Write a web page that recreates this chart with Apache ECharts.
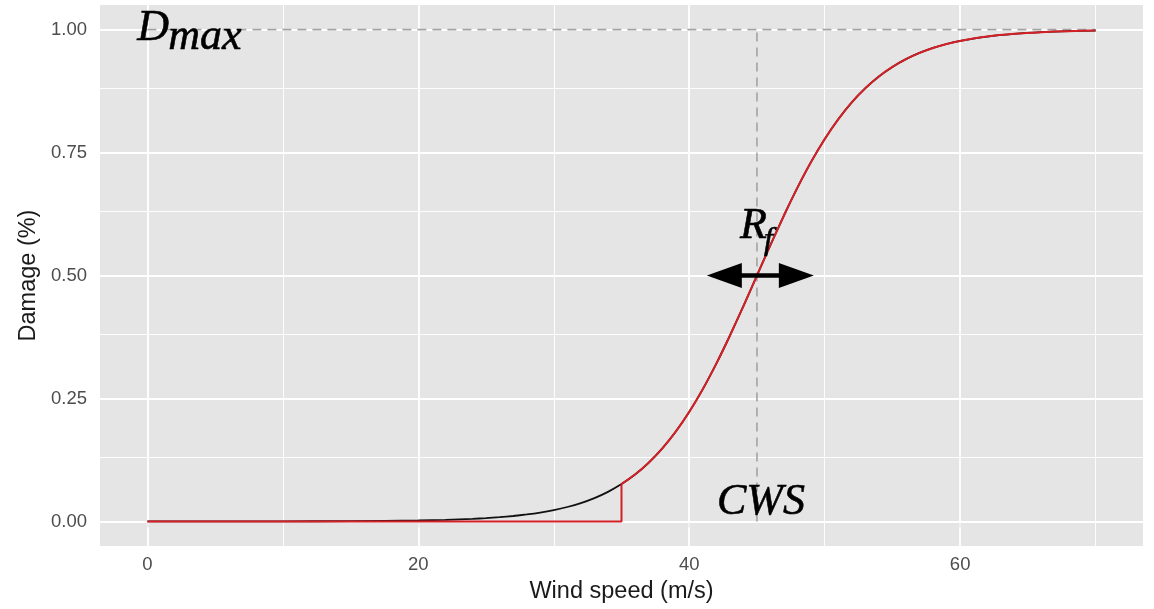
<!DOCTYPE html>
<html>
<head>
<meta charset="utf-8">
<script src="https://cdn.jsdelivr.net/npm/echarts@6/dist/echarts.min.js"></script>
<style>
  html, body { margin: 0; padding: 0; background: #ffffff; }
  #chart { width: 1154px; height: 609px; }
</style>
</head>
<body>
<div id="chart"></div>
<script>
// Fragility curve: damage fraction against wind speed
const windSpeed = [0, 5, 10, 15, 20, 22, 24, 25, 26, 27, 28, 29, 30, 31, 32, 33, 34, 35,
  36, 37, 38, 39, 40, 41, 42, 43, 44, 45, 46, 47, 48, 49, 50, 51, 52, 53, 54, 55,
  56, 57, 58, 59, 60, 62, 64, 66, 68, 70];
const damage = [0.0000, 0.0000, 0.0002, 0.0006, 0.0019, 0.0032, 0.0052, 0.0067, 0.0086,
  0.0110, 0.0141, 0.0180, 0.0230, 0.0293, 0.0373, 0.0474, 0.0601, 0.0759,
  0.0953, 0.1192, 0.1480, 0.1824, 0.2227, 0.2689, 0.3208, 0.3775, 0.4378, 0.5000,
  0.5622, 0.6225, 0.6792, 0.7311, 0.7773, 0.8176, 0.8520, 0.8808, 0.9047, 0.9241,
  0.9399, 0.9526, 0.9627, 0.9707, 0.9770, 0.9859, 0.9914, 0.9948, 0.9968, 0.9981];

const cutoffSpeed = 35;      // damage is set to zero below this speed
const cws = 45;              // critical wind speed
const dMax = 1.0;            // maximum damage
const rfSpan = [41.3, 49.2]; // extent of the R_f arrow

const xTicks = [0, 20, 40, 60];
const xMinor = [10, 30, 50, 70];
const yTicks = [0, 0.25, 0.5, 0.75, 1];
const yMinor = [0.125, 0.375, 0.625, 0.875];

const xRange = [-3.5, 73.5];
const yRange = [-0.05, 1.05];

// Build the series point lists
const fullCurve = windSpeed.map((x, i) => [x, damage[i]]);
const cutIdx = windSpeed.indexOf(cutoffSpeed);
const cutStep = [[windSpeed[0], 0], [cutoffSpeed, 0], [cutoffSpeed, damage[cutIdx]]];
const cutCurve = fullCurve.filter(p => p[0] >= cutoffSpeed);
const lastSpeed = windSpeed[windSpeed.length - 1];

const gridLines = [];
xTicks.forEach(v => gridLines.push({ xAxis: v, lineStyle: { width: 1.8 } }));
xMinor.forEach(v => gridLines.push({ xAxis: v, lineStyle: { width: 0.9 } }));
yTicks.forEach(v => gridLines.push({ yAxis: v, lineStyle: { width: 1.8 } }));
yMinor.forEach(v => gridLines.push({ yAxis: v, lineStyle: { width: 0.9 } }));

const chart = echarts.init(document.getElementById('chart'), null, { renderer: 'canvas' });

const tickLabel = { color: '#4d4d4d', fontSize: 18.5, fontFamily: 'Liberation Sans, Arial, sans-serif' };
const titleStyle = { color: '#1a1a1a', fontSize: 23.5, fontFamily: 'Liberation Sans, Arial, sans-serif' };

chart.setOption({
  animation: false,
  backgroundColor: '#ffffff',
  grid: {
    left: 100, right: 11, top: 5, bottom: 59,
    show: true, backgroundColor: '#e5e5e5', borderWidth: 0
  },
  xAxis: {
    type: 'value', min: xRange[0], max: xRange[1],
    name: 'Wind speed (m/s)', nameLocation: 'middle', nameGap: 34,
    nameTextStyle: titleStyle,
    axisLine: { show: false },
    axisTick: { show: true, customValues: xTicks, length: 6, lineStyle: { color: '#333333', width: 1.5 } },
    axisLabel: Object.assign({ customValues: xTicks, margin: 9, formatter: v => String(v) }, tickLabel),
    splitLine: { show: false }
  },
  yAxis: {
    type: 'value', min: yRange[0], max: yRange[1],
    name: 'Damage (%)', nameLocation: 'middle', nameGap: 58,
    nameTextStyle: titleStyle,
    axisLine: { show: false },
    axisTick: { show: true, customValues: yTicks, length: 6, lineStyle: { color: '#333333', width: 1.5 } },
    axisLabel: Object.assign({ customValues: yTicks, margin: 13, formatter: v => v.toFixed(2) }, tickLabel),
    splitLine: { show: false }
  },
  series: [
    {
      // panel grid lines
      type: 'line', data: [], silent: true, z: 1,
      markLine: {
        z: 1, silent: true, symbol: ['none', 'none'], label: { show: false },
        lineStyle: { color: '#ffffff', type: 'solid' },
        emphasis: { disabled: true },
        data: gridLines
      }
    },
    {
      type: 'line', name: 'Dmax guide', data: [[0, dMax], [lastSpeed, dMax]],
      symbol: 'none', silent: true, z: 2,
      lineStyle: { color: '#a3a3a3', width: 1.6, type: [9, 6] }
    },
    {
      type: 'line', name: 'CWS guide', data: [[cws, 0], [cws, dMax]],
      symbol: 'none', silent: true, z: 2,
      lineStyle: { color: '#a3a3a3', width: 1.6, type: [9, 6] }
    },
    {
      type: 'line', name: 'Full curve', data: fullCurve,
      symbol: 'none', smooth: 0.2, silent: true, z: 3,
      lineStyle: { color: '#111111', width: 1.8 }
    },
    {
      type: 'line', name: 'Cut step', data: cutStep,
      symbol: 'none', silent: true, z: 4,
      lineStyle: { color: '#d42027', width: 2 }
    },
    {
      type: 'line', name: 'Cut curve', data: cutCurve,
      symbol: 'none', smooth: 0.2, silent: true, z: 4,
      lineStyle: { color: '#d42027', width: 2 }
    }
  ]
});

// Annotations placed from data coordinates
const px = (x, y) => chart.convertToPixel({ gridIndex: 0 }, [x, y]);
const mathFont = 'italic 44px "Liberation Serif", "DejaVu Serif", serif';
const subFont = 'italic 32px "Liberation Serif", "DejaVu Serif", serif';
const ink = { fill: '#000', stroke: '#000', lineWidth: 0.6, verticalAlign: 'middle', align: 'left' };

const aL = px(rfSpan[0], 0.5), aR = px(rfSpan[1], 0.5);
const ay = aL[1], head = 35, hw = 12.5, sw = 2.2;
const arrowPts = [
  [aL[0], ay], [aL[0] + head, ay - hw], [aL[0] + head, ay - sw],
  [aR[0] - head, ay - sw], [aR[0] - head, ay - hw], [aR[0], ay],
  [aR[0] - head, ay + hw], [aR[0] - head, ay + sw],
  [aL[0] + head, ay + sw], [aL[0] + head, ay + hw]
];

const dPos = px(-0.75, 1.002);
const rPos = px(43.75, 0.599);
const cPos = px(42.05, 0.038);

chart.setOption({
  graphic: [
    { type: 'polygon', z: 100, shape: { points: arrowPts }, style: { fill: '#000000' } },
    { type: 'text', z: 100, x: dPos[0], y: dPos[1],
      style: Object.assign({ text: 'D', font: mathFont }, ink) },
    { type: 'text', z: 100, x: dPos[0] + 31, y: dPos[1] + 9,
      style: Object.assign({ text: 'max', font: mathFont }, ink) },
    { type: 'text', z: 100, x: rPos[0], y: rPos[1],
      style: Object.assign({ text: 'R', font: mathFont }, ink) },
    { type: 'text', z: 100, x: rPos[0] + 24, y: rPos[1] + 14,
      style: Object.assign({ text: 'f', font: subFont }, ink) },
    { type: 'text', z: 100, x: cPos[0], y: cPos[1],
      style: Object.assign({ text: 'CWS', font: mathFont }, ink) }
  ]
});
</script>
</body>
</html>
